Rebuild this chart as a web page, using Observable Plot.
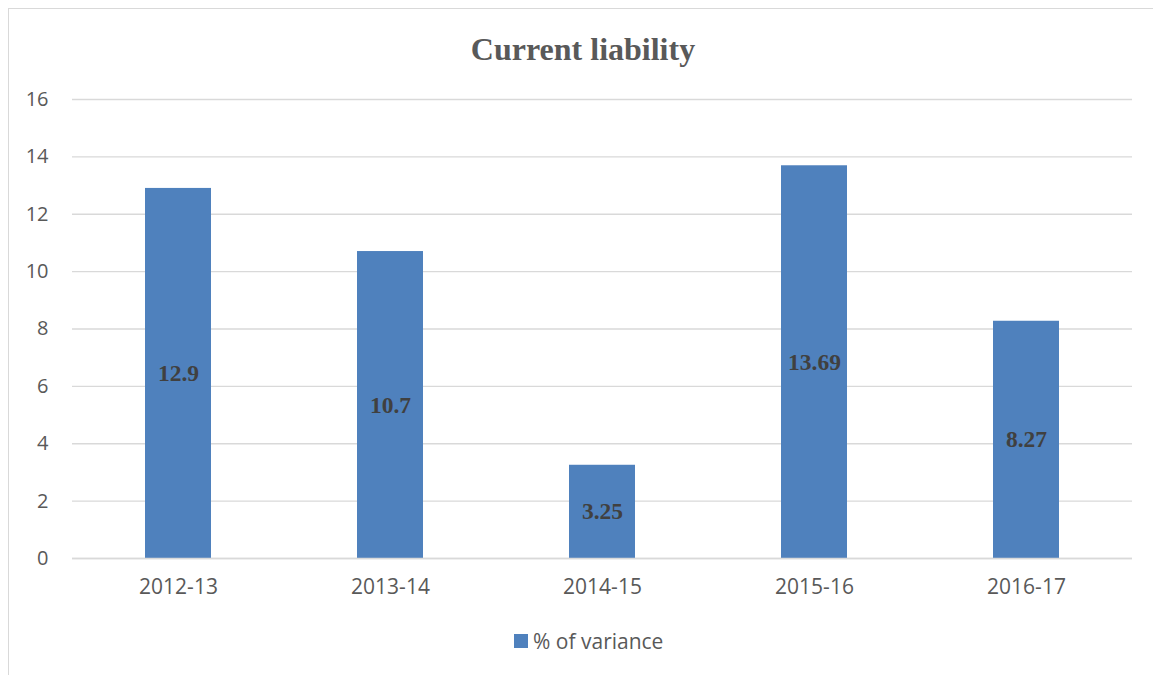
<!DOCTYPE html>
<html><head><meta charset="utf-8">
<script src="https://cdn.jsdelivr.net/npm/d3@7"></script>
<script src="https://cdn.jsdelivr.net/npm/@observablehq/plot@0.6"></script>
<style>
body{margin:0;background:#fff;}
#wrap{position:relative;width:1153px;height:675px;overflow:hidden;background:#fff;}
#frame{position:absolute;left:8px;top:8px;width:1160px;height:700px;border:1.5px solid #d9d9d9;box-sizing:border-box;}
#title{position:absolute;left:0;width:1166px;top:31px;text-align:center;font-family:"Liberation Serif",serif;font-weight:bold;font-size:32px;color:#595959;}
#legend{position:absolute;top:627px;left:514px;font-family:"Open Sans",sans-serif;font-size:21px;color:#595959;display:flex;align-items:center;}
#legend span.sw{display:inline-block;width:14px;height:14px;background:#4F81BD;margin-right:5px;}
#chart{position:absolute;left:0;top:0;}
</style></head>
<body>
<div id="wrap">
<div id="frame"></div>
<div id="title">Current liability</div>
<div id="chart"></div>
<div id="legend"><span class="sw"></span><span>% of variance</span></div>
</div>
<script>
const years = ["2012-13","2013-14","2014-15","2015-16","2016-17"];
const values = [12.9, 10.7, 3.25, 13.69, 8.27];
const labels = ["12.9","10.7","3.25","13.69","8.27"];
const yTicks = [0,2,4,6,8,10,12,14,16];

const data = years.map((y,i)=>({year:y, value:values[i], label:labels[i]}));

const chart = Plot.plot({
  width: 1153,
  height: 600,
  marginTop: 99,
  marginBottom: 42,
  marginLeft: 72,
  marginRight: 21,
  style: {fontFamily: "'Open Sans', sans-serif", fontSize: "20px", color: "#595959", background: "transparent"},
  x: {domain: years, paddingInner: 0.69, paddingOuter: 0.345, label: null},
  y: {domain: [0,16], label: null},
  marks: [
    Plot.gridY(yTicks, {stroke: "#d9d9d9", strokeOpacity: 1, strokeWidth: 1.3}),
    Plot.axisY(yTicks, {tickSize: 0, tickPadding: 24, label: null, fill: "#595959", fontSize: 20}),
    Plot.axisX({tickSize: 0, tickPadding: 21, label: null, fill: "#595959", fontSize: 21}),
    Plot.barY(data, {x: "year", y: "value", fill: "#4F81BD"}),
    Plot.ruleY([0], {stroke: "#d9d9d9", strokeWidth: 1.3}),
    Plot.text(data, {x: "year", y: d => d.value/2, text: "label", fill: "#404040", fontFamily: "'Liberation Serif', serif", fontWeight: "bold", fontSize: 23.5})
  ]
});
document.getElementById("chart").appendChild(chart);
</script>
</body></html>
